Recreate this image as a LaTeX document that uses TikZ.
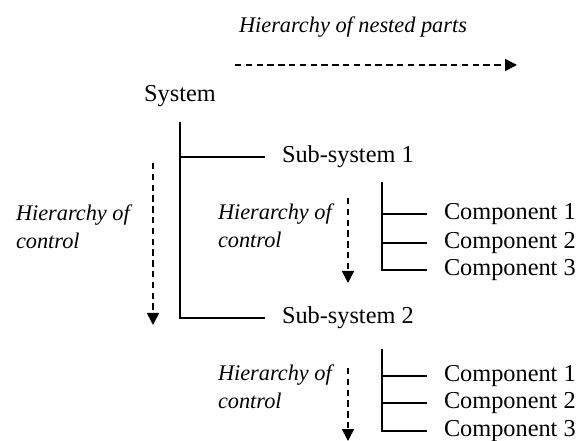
\documentclass[tikz,border=0pt]{standalone}
\usepackage{fontspec}
\setmainfont{Liberation Serif}
\usetikzlibrary{arrows.meta}
\tikzstyle{every node}=[inner sep=0pt, font=\fontsize{12.2}{14}\selectfont]
\tikzstyle{lbl}=[align=left, anchor=west, font=\fontsize{11.2}{14}\selectfont\itshape]
\tikzstyle{ctrl}=[line width=0.85bp, dash pattern=on 3.2bp off 2.2bp, -{Triangle[length=6bp,width=6bp]}]
\tikzstyle{part}=[anchor=west, inner xsep=8bp]

\begin{document}
\begin{tikzpicture}[x=0.5bp, y=-0.5bp, line width=1bp]
  \useasboundingbox (0,0) rectangle (581,441);

  \node[font=\fontsize{11.2}{14}\selectfont\itshape] (nested) at (353,27) {Hierarchy of nested parts};
  \coordinate (nestedA) at (235,65);
  \coordinate (nestedB) at (517,65);
  \draw[ctrl] (nestedA) -- (nestedB);

  \node (sys) at (180,96) {System};
  \coordinate (trunk) at (180,122);
  \node[part] (sub1) at (265,157) {Sub-system 1};
  \node[part] (sub2) at (265,318) {Sub-system 2};
  \draw (sub1.west) -| (trunk) |- (sub2.west);

  \node[lbl] (ctrlL) at (15,227) {Hierarchy of\\control};
  \coordinate (ctrlLA) at (153,163);
  \coordinate (ctrlLB) at (153,325);
  \draw[ctrl] (ctrlLA) -- (ctrlLB);

  \node[lbl] (ctrlM) at (217,226) {Hierarchy of\\control};
  \coordinate (ctrlMA) at (348,198);
  \coordinate (ctrlMB) at (348,283);
  \draw[ctrl] (ctrlMA) -- (ctrlMB);

  \coordinate (grpA) at (382,182);
  \node[part] (a1) at (427,214) {Component 1};
  \node[part] (a2) at (427,243) {Component 2};
  \node[part] (a3) at (427,270) {Component 3};
  \draw (grpA) |- (a3.west);
  \draw (a1.west) -- (a1.west -| grpA);
  \draw (a2.west) -- (a2.west -| grpA);

  \node[lbl] (ctrlN) at (217,387) {Hierarchy of\\control};
  \coordinate (ctrlNA) at (348,368);
  \coordinate (ctrlNB) at (348,441);
  \draw[ctrl] (ctrlNA) -- (ctrlNB);

  \coordinate (grpB) at (382,349);
  \node[part] (b1) at (427,376) {Component 1};
  \node[part] (b2) at (427,403) {Component 2};
  \node[part] (b3) at (427,431) {Component 3};
  \draw (grpB) |- (b3.west);
  \draw (b1.west) -- (b1.west -| grpB);
  \draw (b2.west) -- (b2.west -| grpB);
\end{tikzpicture}
\end{document}
